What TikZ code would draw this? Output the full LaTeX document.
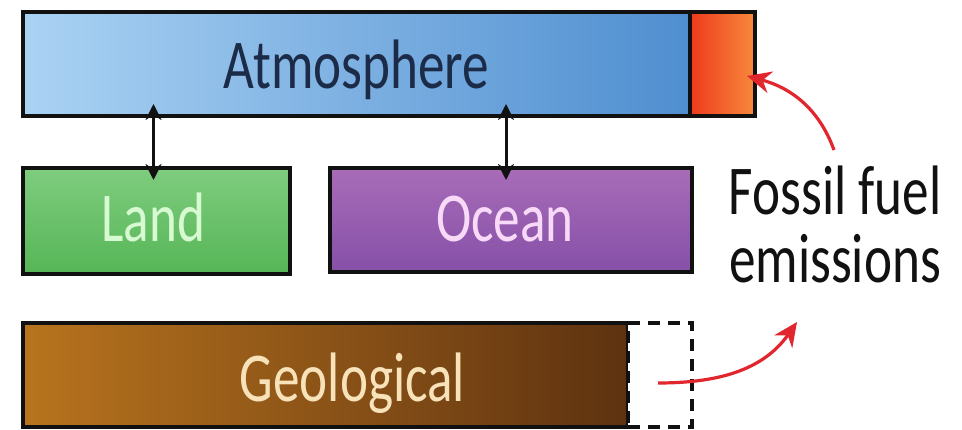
\documentclass[tikz,border=0pt]{standalone}
\usepackage{fontspec}
\setmainfont{Carlito}[FakeStretch=0.76]
\usetikzlibrary{arrows.meta,calc}
\definecolor{atmL}{HTML}{AAD2F3}
\definecolor{atmR}{HTML}{4F8ED0}
\definecolor{atmT}{HTML}{1B2B48}
\definecolor{ffL}{HTML}{EE3A1E}
\definecolor{ffR}{HTML}{F7893C}
\definecolor{landT}{HTML}{7FCC7F}
\definecolor{landB}{HTML}{56B656}
\definecolor{landTx}{HTML}{D8FAD2}
\definecolor{ocT}{HTML}{A86CB8}
\definecolor{ocB}{HTML}{8650A8}
\definecolor{ocTx}{HTML}{F8DAF8}
\definecolor{geoL}{HTML}{B8741E}
\definecolor{geoR}{HTML}{5E3210}
\definecolor{geoTx}{HTML}{F8E2BA}
\definecolor{fred}{HTML}{E2262E}
\definecolor{ink}{HTML}{111111}
\begin{document}
\begin{tikzpicture}[x=1pt,y=1pt,
  box/.style={draw=ink, line width=4pt, inner sep=0pt, outer sep=0pt, anchor=north west},
  lbl/.style={font=\fontsize{70}{84}\selectfont, inner sep=0pt, anchor=base},
  dbl/.style={{Stealth[length=16pt,width=16pt]}-{Stealth[length=16pt,width=16pt]}, line width=3pt, draw=ink},
  fuelarrow/.style={-{Stealth[length=24pt,width=22pt]}, line width=3.2pt, draw=fred},
]
\useasboundingbox[fill=white] (0,0) rectangle (962,-430);
% boxes
\node[box, minimum width=667pt, minimum height=104pt, left color=atmL, right color=atmR] (atm) at (23,-12) {};
\node[box, minimum width=65pt, minimum height=104pt, left color=ffL, right color=ffR] (ff) at (690,-12) {};
\node[box, minimum width=267pt, minimum height=106pt, top color=landT, bottom color=landB] (land) at (23,-168) {};
\node[box, minimum width=362pt, minimum height=104pt, top color=ocT, bottom color=ocB] (ocean) at (330,-168) {};
\node[box, minimum width=605pt, minimum height=104pt, left color=geoL, right color=geoR] (geo) at (23,-323) {};
\node[box, minimum width=64pt, minimum height=104pt, fill=white, dash pattern=on 12pt off 8pt] (dash) at (628,-323) {};
% labels
\node[lbl, text=atmT] (atmlbl) at ([yshift=-25pt]atm.center) {Atmosphere};
\node[lbl, text=landTx] (landlbl) at ([xshift=-3pt,yshift=-21pt]land.center) {Land};
\node[lbl, text=ocTx] (oclbl) at ([xshift=-6pt,yshift=-22pt]ocean.center) {Ocean};
\node[lbl, text=geoTx] (geolbl) at ($(geo.west)!0.5!(dash.east)+(-5pt,-27pt)$) {Geological};
\node[lbl, text=ink] (fuel1) at (835,-215) {Fossil fuel};
\node[lbl, text=ink] (fuel2) at (835,-283) {emissions};
% exchange arrows
\draw[dbl] ([xshift=-3pt,yshift=12pt]atm.south -| land.north) -- ([xshift=-3pt,yshift=-12pt]land.north);
\draw[dbl] ([xshift=-5pt,yshift=12pt]atm.south -| ocean.north) -- ([xshift=-5pt,yshift=-12pt]ocean.north);
% fossil fuel arrows
\coordinate (s1) at (834,-150);
\coordinate (s2) at (658,-383);
\coordinate (t2) at (797,-322);
\draw[fuelarrow] (s1) to[out=110,in=-15] ([xshift=-8pt,yshift=-12pt]ff.east);
\draw[fuelarrow] (s2) to[out=0,in=235] (t2);
\end{tikzpicture}
\end{document}
